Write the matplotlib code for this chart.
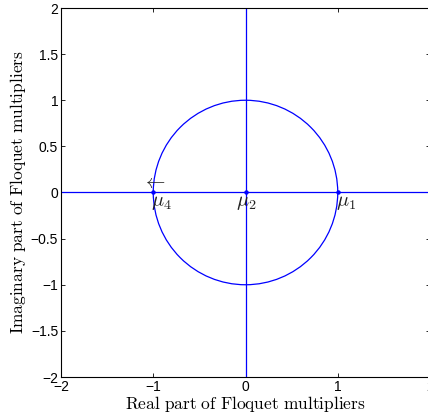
import matplotlib
matplotlib.use("Agg")
import matplotlib.pyplot as plt
from matplotlib.patches import Circle

plt.rcParams['mathtext.fontset'] = 'cm'

mult_re = [1.0, 0.0, -1.0]
mult_im = [0.0, 0.0, 0.0]
mult_labels = [r'$\mu_1$', r'$\mu_2$', r'$\mu_4$']
circle_radius = 1.0
xlim = (-2, 2)
ylim = (-2, 2)
xticks = [-2, -1, 0, 1, 2]
yticks = [-2, -1.5, -1, -0.5, 0, 0.5, 1, 1.5, 2]
ytick_labels = ['\u22122', '\u22121.5', '\u22121', '\u22120.5', '0', '0.5', '1', '1.5', '2']
xtick_labels = ['\u22122', '\u22121', '0', '1', '2']

fig = plt.figure(figsize=(4.28, 4.19), dpi=100)
ax = fig.add_axes([61/428, 42/419, 369/428, 369/419])
blue = '#0000ff'
ax.add_patch(Circle((0, 0), circle_radius, fill=False, edgecolor=blue, lw=0.9))
ax.plot(xlim, [0, 0], color=blue, lw=0.9)
ax.plot([0, 0], ylim, color=blue, lw=0.9)
ax.plot(mult_re, mult_im, 'o', color=blue, ms=2.2, ls='none')
label_dx = [-0.02, -0.1, -0.02]
for x, y, lab, dx in zip(mult_re, mult_im, mult_labels, label_dx):
    ax.text(x + dx, y - 0.01, lab, fontsize=14.5, ha='left', va='top', color='#222222')
ax.text(mult_re[2] - 0.12, 0.11, r'$\leftarrow$', fontsize=14, ha='left', va='center', color='#222222')

ax.set_xlim(*xlim)
ax.set_ylim(*ylim)
ax.set_xticks(xticks)
ax.set_xticklabels(xtick_labels, fontfamily='Liberation Sans', fontsize=10)
ax.set_yticks(yticks)
ax.set_yticklabels(ytick_labels, fontfamily='Liberation Sans', fontsize=10)
ax.tick_params(direction='in', length=3, width=0.6, pad=2, top=True, right=True)
for s in ax.spines.values():
    s.set_linewidth(0.8)
ax.set_xlabel(r'$\mathrm{Real\ part\ of\ Floquet\ multipliers}$', fontsize=12.5, labelpad=0)
ax.set_ylabel(r'$\mathrm{Imaginary\ part\ of\ Floquet\ multipliers}$', fontsize=12.5, labelpad=2)
fig.savefig('out.png', dpi=100)
